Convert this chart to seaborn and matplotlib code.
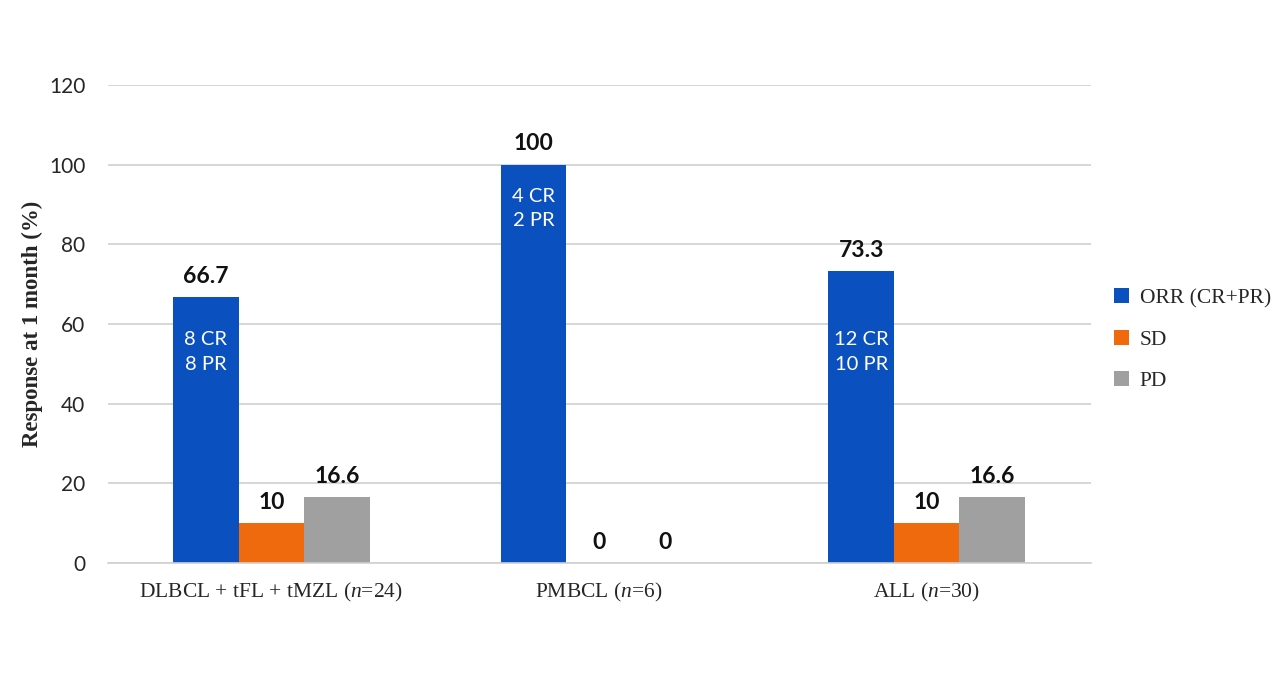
import matplotlib.pyplot as plt
import pandas as pd
import seaborn as sns

# values
groups = ['DLBCL + tFL + tMZL ($n$=24)', 'PMBCL ($n$=6)', 'ALL ($n$=30)']
series = ['ORR (CR+PR)', 'SD', 'PD']
orr = [66.7, 100, 73.3]
sd = [10, 0, 10]
pd_ = [16.6, 0, 16.6]
inner_txt = ['8 CR\n8 PR', '4 CR\n2 PR', '12 CR\n10 PR']
colors = ['#0a50be', '#ee6a0c', '#a0a0a0']

rows = []
for i, g in enumerate(groups):
    rows.append((g, series[0], orr[i]))
    rows.append((g, series[1], sd[i]))
    rows.append((g, series[2], pd_[i]))
data = pd.DataFrame(rows, columns=['group', 'series', 'value'])

sns.set_style('white')
plt.rcParams['mathtext.fontset'] = 'custom'
plt.rcParams['mathtext.rm'] = 'Liberation Serif'
plt.rcParams['mathtext.it'] = 'Liberation Serif:italic'

fig = plt.figure(figsize=(12.8, 6.8), dpi=100)
ax = fig.add_axes([0.084, 0.172, 0.768, 0.703])

sns.barplot(data=data, x='group', y='value', hue='series', palette=colors,
            width=0.6, saturation=1, linewidth=0, ax=ax, legend=True)

ax.set_ylim(0, 120)
ax.set_xlim(-0.5, 2.5)
ax.set_yticks(range(0, 121, 20))
ax.yaxis.grid(True, color='#d0d0d0', lw=1.2)
ax.set_axisbelow(True)
for s in ['top', 'right', 'left']:
    ax.spines[s].set_visible(False)
ax.spines['bottom'].set_color('#d0d0d0')
ax.spines['bottom'].set_linewidth(1.2)
ax.tick_params(axis='both', length=0)
ax.tick_params(axis='y', pad=16)
ax.tick_params(axis='x', pad=13)

for lab in ax.get_yticklabels():
    lab.set_fontfamily('Lato')
    lab.set_fontsize(15)
for lab in ax.get_xticklabels():
    lab.set_fontfamily('Liberation Serif')
    lab.set_fontsize(15.5)

ax.set_xlabel('')
ax.set_ylabel('Response at 1 month (%)', family='Liberation Serif',
              fontsize=16.5, fontweight='bold')
ax.yaxis.set_label_coords(-0.066, 0.5)

# value labels above bars
for cont in ax.containers:
    for bar in cont:
        h = bar.get_height()
        ax.annotate(f'{h:g}', (bar.get_x() + bar.get_width() / 2, h),
                    xytext=(0, 15), textcoords='offset points',
                    ha='center', va='center', family='Lato',
                    fontweight='bold', fontsize=16.5, color='#111111')

# CR / PR counts inside the ORR bars
inner_y = [53, 89, 53]
for bar, txt, yy in zip(ax.containers[0], inner_txt, inner_y):
    ax.text(bar.get_x() + bar.get_width() / 2, yy, txt, ha='center',
            va='center', color='white', family='Lato', fontsize=14.5,
            linespacing=1.55)

leg = ax.legend(loc='center left', bbox_to_anchor=(1.004, 0.467), frameon=False,
                prop={'family': 'Liberation Serif', 'size': 15.5},
                handlelength=0.7, handleheight=0.7, labelspacing=1.0,
                handletextpad=0.5)

fig.savefig('out.png', dpi=100)
